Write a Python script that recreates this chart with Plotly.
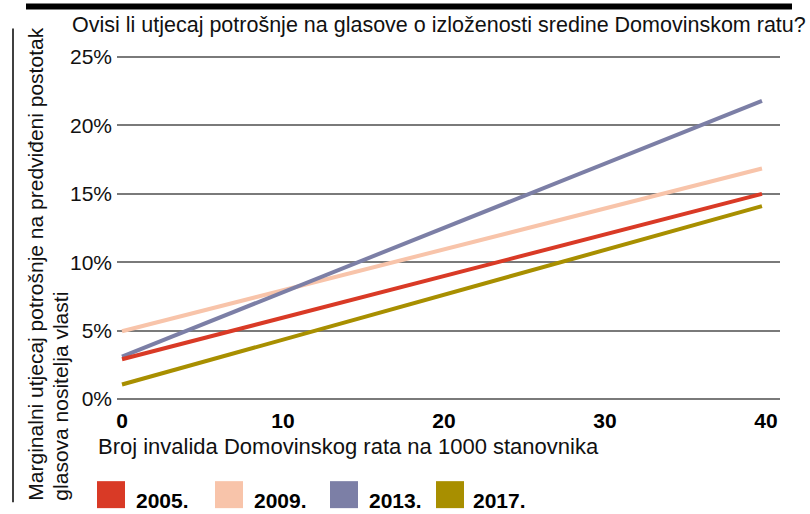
import plotly.graph_objects as go

# ---- data ----
years = ["2005.", "2009.", "2013.", "2017."]
colors = ["#d93a26", "#f8c4aa", "#7c7fa6", "#a88f00"]
x_vals = [0, 39.75]
y2005 = [2.9, 15.0]
y2009 = [4.95, 16.85]
y2013 = [3.1, 21.8]
y2017 = [1.05, 14.1]
series = [y2005, y2009, y2013, y2017]
x_ticks = [0, 10, 20, 30, 40]
y_ticks = [0, 5, 10, 15, 20, 25]

title = "Ovisi li utjecaj potrošnje na glasove o izloženosti sredine Domovinskom ratu?"
ytitle1 = "Marginalni utjecaj potrošnje na predviđeni postotak"
ytitle2 = "glasova nositelja vlasti"
xtitle = "Broj invalida Domovinskog rata na 1000 stanovnika"

W, H = 810, 514
L, R = 117, 780
T, B = 52.6, 402.8
FONT = "Liberation Sans, Arial, sans-serif"


def px(xp):
    return (xp - L) / (R - L)


def py(yp):
    return (B - yp) / (B - T)


fig = go.Figure()
draw_order = [1, 2, 0, 3]
for i in draw_order:
    fig.add_trace(go.Scatter(
        x=x_vals, y=series[i], mode="lines", name=years[i],
        line=dict(color=colors[i], width=4), showlegend=False,
    ))

shapes = [
    dict(type="rect", xref="paper", yref="paper", x0=px(26), x1=px(792),
         y0=py(9), y1=py(3), fillcolor="black", line=dict(width=0), layer="above"),
    dict(type="line", xref="paper", yref="paper", x0=px(13), x1=px(13),
         y0=py(28), y1=py(502), line=dict(color="black", width=1.5)),
]
annotations = [
    dict(text=ytitle1, xref="paper", yref="paper", x=px(36), y=py(503),
         xanchor="center", yanchor="bottom", textangle=-90, showarrow=False,
         font=dict(family=FONT, size=21, color="#111")),
    dict(text=ytitle2, xref="paper", yref="paper", x=px(61), y=py(503),
         xanchor="center", yanchor="bottom", textangle=-90, showarrow=False,
         font=dict(family=FONT, size=21, color="#111")),
    dict(text=xtitle, xref="paper", yref="paper", x=px(96), y=py(446),
         xanchor="left", yanchor="middle", showarrow=False,
         font=dict(family=FONT, size=22, color="#111")),
]

sq_x = [97, 215, 330, 436]
tx_x = [134, 252, 367, 471]
for i, yr in enumerate(years):
    shapes.append(dict(type="rect", xref="paper", yref="paper",
                       x0=px(sq_x[i]), x1=px(sq_x[i] + 28), y0=py(508), y1=py(481),
                       fillcolor=colors[i], line=dict(width=0)))
    annotations.append(dict(text="<b>" + yr + "</b>", xref="paper", yref="paper",
                            x=px(tx_x[i]), y=py(514), xanchor="left", yanchor="bottom",
                            showarrow=False,
                            font=dict(family=FONT, size=21, color="black")))

fig.update_layout(
    width=W, height=H,
    margin=dict(l=L, r=W - R, t=T, b=H - B, pad=0),
    paper_bgcolor="white", plot_bgcolor="white",
    showlegend=False,
    title=dict(text=title, x=72 / W, xref="container", xanchor="left",
               y=1 - 24 / H, yref="container", yanchor="middle",
               font=dict(family=FONT, size=21.5, color="#111")),
    shapes=shapes, annotations=annotations,
    xaxis=dict(range=[-0.31, 40.87], tickvals=x_ticks,
               ticktext=["<b>%d</b>" % v for v in x_ticks],
               showgrid=False, zeroline=False, showline=False, ticks="",
               ticklabelstandoff=3,
               tickfont=dict(family=FONT, size=21, color="black")),
    yaxis=dict(range=[-0.3, 25.3], tickvals=y_ticks,
               ticktext=["%d%%" % v for v in y_ticks],
               showgrid=True, gridcolor="#7a7a7a", gridwidth=1.5,
               zeroline=False, showline=False, ticks="",
               ticklabelstandoff=4,
               tickfont=dict(family=FONT, size=21, color="#111")),
)

fig.write_html("out.html", config={"displayModeBar": False},
               post_script="document.body.style.margin='0px';document.body.style.overflow='hidden';")
